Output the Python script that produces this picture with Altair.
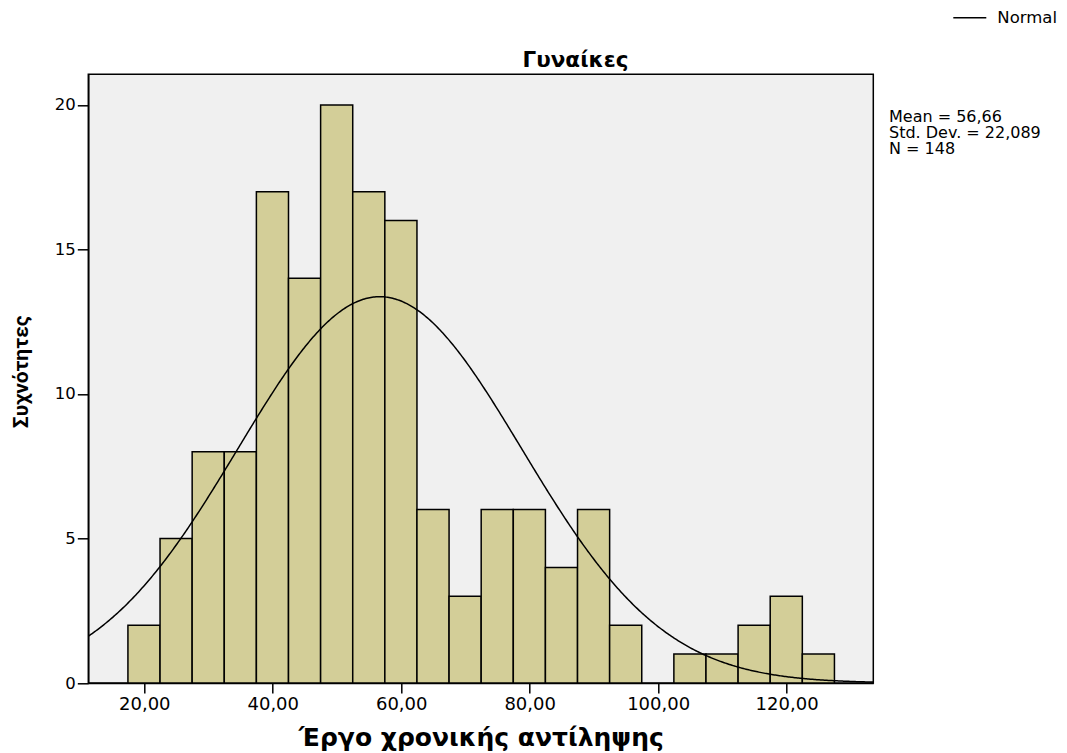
import altair as alt
import pandas as pd

# Histogram data
bin_start = [17.45, 22.45, 27.45, 32.45, 37.45, 42.45, 47.45, 52.45, 57.45, 62.45, 67.45,
             72.45, 77.45, 82.45, 87.45, 92.45, 97.45, 102.45, 107.45, 112.45, 117.45, 122.45]
bin_end = [22.45, 27.45, 32.45, 37.45, 42.45, 47.45, 52.45, 57.45, 62.45, 67.45, 72.45,
           77.45, 82.45, 87.45, 92.45, 97.45, 102.45, 107.45, 112.45, 117.45, 122.45, 127.45]
counts = [2, 5, 8, 8, 17, 14, 20, 17, 16, 6, 3, 6, 6, 4, 6, 2, 0, 1, 1, 2, 3, 1]

# Summary statistics shown on the chart
mean = 56.66
sd = 22.089
n = 148
bin_width = 5
stats_lines = ["Mean = 56,66", "Std. Dev. = 22,089", "N = 148"]
panel_title = "Γυναίκες"

x_ticks = [20, 40, 60, 80, 100, 120]
y_ticks = [0, 5, 10, 15, 20]
x_domain = [11.28, 133.5]
y_domain = [0, 21.06]

df = pd.DataFrame({"start": bin_start, "end": bin_end, "count": counts})

FONT = "DejaVu Sans"

x_scale = alt.Scale(domain=x_domain, nice=False, zero=False)
y_scale = alt.Scale(domain=y_domain, nice=False, zero=False)

bars = alt.Chart(df).transform_filter("datum.count > 0").mark_rect(
    fill="#d3ce98", stroke="black", strokeWidth=1.5
).encode(
    x=alt.X("start:Q", scale=x_scale,
            axis=alt.Axis(values=x_ticks, title="Έργο χρονικής αντίληψης",
                          labelExpr="replace(format(datum.value, '.2f'), '.', ',')",
                          labelFontSize=18,
                          titleFontSize=25, titleFont=FONT, titleFontWeight="bold",
                          titlePadding=12, labelPadding=2, tickSize=10)),
    x2="end:Q",
    y=alt.Y("count:Q", scale=y_scale,
            axis=alt.Axis(values=y_ticks, title="Συχνότητες",
                          labelFontSize=16.5,
                          titleFontSize=21, titleFont="Roboto", titleFontWeight="bold",
                          titlePadding=23, titleY=297, labelPadding=2, tickSize=11)),
    y2=alt.datum(0),
)

curve = alt.Chart(alt.sequence(x_domain[0], x_domain[1] + 0.2, 0.2, as_="x")).transform_calculate(
    y=f"{n * bin_width} * exp(-0.5 * pow((datum.x - {mean}) / {sd}, 2)) / ({sd} * sqrt(2 * PI))",
    series="'Normal'",
).mark_line(strokeWidth=1.5, clip=True).encode(
    x=alt.X("x:Q", scale=x_scale),
    y=alt.Y("y:Q", scale=y_scale),
    stroke=alt.Stroke("series:N", scale=alt.Scale(range=["black"]),
                      legend=alt.Legend(title=None, orient="none", legendX=864, legendY=-74,
                                        symbolType="stroke", symbolSize=1089,
                                        symbolStrokeWidth=1.5, labelFontSize=16.5,
                                        labelFont=FONT, labelOffset=10, labelColor="black",
                                        padding=0)),
)

one_row = pd.DataFrame({"a": [0]})

stats = alt.Chart(one_row).mark_text(
    align="left", baseline="alphabetic", font=FONT, fontSize=16, lineHeight=16, color="black"
).encode(
    x=alt.value(800.7), y=alt.value(47.5), text=alt.value(stats_lines)
)

title = alt.Chart(one_row).mark_text(
    align="center", baseline="alphabetic", font=FONT, fontSize=21.5, fontWeight="bold", color="black"
).encode(
    x=alt.value(487.2), y=alt.value(-7.5), text=alt.value(panel_title)
)

chart = alt.layer(bars, curve, stats, title).properties(
    width=785, height=608.7,
    autosize=alt.AutoSizeParams(type="none"),
    padding={"left": 80.3, "top": 66.3, "right": 185.7, "bottom": 69},
).configure_view(
    stroke="black", strokeWidth=1.5, fill="#f0f0f0"
).configure_axis(
    grid=False, domainColor="black", domainWidth=1.5, tickColor="black", tickWidth=1.5,
    labelColor="black", titleColor="black", labelFont=FONT, labelFontSize=17,
)

chart.save("out.html", embed_options={"renderer": "svg", "actions": False})
